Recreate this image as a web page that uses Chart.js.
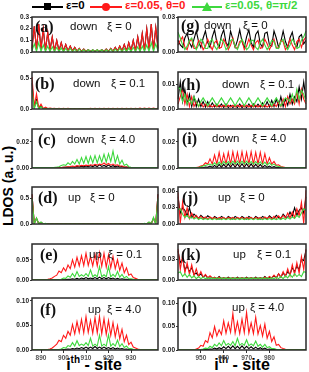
<!DOCTYPE html>
<html>
<head>
<meta charset="utf-8">
<script src="https://cdn.jsdelivr.net/npm/chart.js@4.4.1/dist/chart.umd.min.js"></script>
<style>
  body { margin: 0; width: 309px; height: 372px; background: #fff; position: relative; overflow: hidden;
         font-family: "Liberation Sans", Arial, sans-serif; }
  .box { position: absolute; }
  .lab { position: absolute; white-space: nowrap; line-height: 1; transform: translateY(-50%); color: #111; }
  .tag { font-family: "Liberation Serif", "Times New Roman", serif; font-weight: bold; font-size: 16px; }
  .txt { font-size: 11.5px; }
  .leg { position: absolute; white-space: nowrap; font-weight: bold; font-size: 11.5px; line-height: 1; top: 0px; }
  .lline { position: absolute; height: 2px; top: 6px; }
  .ytitle { position: absolute; left: 8px; top: 186px; transform: translate(-50%, -50%) rotate(-90deg);
            font-weight: bold; font-size: 14px; white-space: nowrap; }
  .xtitle { position: absolute; top: 364px; transform: translate(-50%, -50%); font-weight: bold; font-size: 16px; white-space: nowrap; }
  .xtitle sup { font-size: 10px; }
</style>
</head>
<body>

<!-- legend -->
<div class="lline" style="left:32px;width:31px;background:#000"></div>
<div class="box" style="left:44px;top:3px;width:7px;height:7px;background:#000"></div>
<div class="leg" style="left:66px;color:#000">ε=0</div>
<div class="lline" style="left:90px;width:32px;background:#ff1a1a"></div>
<div class="box" style="left:102px;top:3px;width:8px;height:8px;border-radius:50%;background:#ff1a1a"></div>
<div class="leg" style="left:125px;color:#ff1a1a">ε=0.05, θ=0</div>
<div class="lline" style="left:192px;width:30px;background:#3ed83e"></div>
<div class="box" style="left:202px;top:2px;width:0;height:0;border-left:5px solid transparent;border-right:5px solid transparent;border-bottom:9px solid #3ed83e"></div>
<div class="leg" style="left:225px;color:#3ed83e">ε=0.05, θ=π/2</div>

<div class="ytitle">LDOS (a. u.)</div>
<div class="xtitle" style="left:94px">i<sup>th</sup> - site</div>
<div class="xtitle" style="left:242px">i<sup>th</sup> - site</div>

<script>
// site numbers along each column
const sitesLeft = [886,887,888,889,890,891,892,893,894,895,
  896,897,898,899,900,901,902,903,904,905,
  906,907,908,909,910,911,912,913,914,915,
  916,917,918,919,920,921,922,923,924,925,
  926,927,928,929,930,931,932,933,934,935,
  936,937,938,939,940,941,942];
const sitesRight = [940,941,942,943,944,945,946,947,948,949,
  950,951,952,953,954,955,956,957,958,959,
  960,961,962,963,964,965,966,967,968,969,
  970,971,972,973,974,975,976,977,978,979,
  980,981,982,983,984,985,986,987,988,989,
  990,991,992,993,994,995,996];
// labelled sites on the bottom axes
const ticksLeft = [890, 900, 910, 920, 930];
const ticksRight = [950, 960, 970, 980];

// (a) down, xi = 0
const aRed = [0.03,0.22,0.02,0.24,0.02,0.20,0.015,0.17,0.015,0.13,
  0.01,0.10,0.01,0.08,0.01,0.065,0.008,0.05,0.008,0.04,
  0.006,0.03,0.006,0.025,0.005,0.02,0.005,0.018,0.005,0.018,
  0.005,0.02,0.005,0.025,0.006,0.03,0.006,0.04,0.008,0.05,
  0.008,0.065,0.01,0.08,0.01,0.10,0.01,0.13,0.015,0.16,
  0.015,0.20,0.02,0.24,0.02,0.21,0.03];
const aBlack = aRed; // the eps=0 curve lies under the red one
const aGreen = [0.01,0.07,0.005,0.08,0.005,0.06,0.004,0.05,0.004,0.045,
  0.003,0.04,0.003,0.035,0.003,0.03,0.002,0.03,0.002,0.025,
  0.002,0.025,0.002,0.02,0.002,0.02,0.002,0.02,0.002,0.02,
  0.002,0.02,0.002,0.02,0.002,0.025,0.002,0.025,0.002,0.03,
  0.002,0.03,0.003,0.035,0.003,0.04,0.003,0.045,0.004,0.05,
  0.004,0.06,0.005,0.08,0.005,0.07,0.01];

// (b) down, xi = 0.1
const bRed = [0.52,0.03,0.25,0.02,0.08,0.01,0.03,0.008,0.015,0.006,
  0.012,0.005,0.01,0.005,0.01,0.004,0.01,0.004,0.009,0.004,
  0.009,0.004,0.009,0.004,0.009,0.004,0.01,0.004,0.01,0.004,
  0.01,0.004,0.01,0.004,0.01,0.004,0.011,0.004,0.011,0.004,
  0.012,0.004,0.012,0.004,0.013,0.004,0.013,0.005,0.014,0.005,
  0.014,0.005,0.015,0.005,0.015,0.005,0.012];
const bBlack = [0.42,0.02,0.15,0.01,0.045,0.005,0.015,0.004,0.008,0.003,
  0.006,0.003,0.005,0.002,0.005,0.002,0.004,0.002,0.004,0.002,
  0.004,0.002,0.004,0.002,0.004,0.002,0.004,0.002,0.004,0.002,
  0.004,0.002,0.004,0.002,0.004,0.002,0.004,0.002,0.004,0.002,
  0.005,0.002,0.005,0.002,0.005,0.002,0.005,0.002,0.006,0.002,
  0.006,0.002,0.006,0.002,0.007,0.002,0.006];
const bGreen = [0.30,0,0.12,0,0.04,0,0.012,0,0.006,0,
  0.005,0,0.005,0,0.004,0,0.004,0,0.004,0,
  0.004,0,0.004,0,0.004,0,0.004,0,0.004,0,
  0.004,0,0.004,0,0.004,0,0.004,0,0.004,0,
  0.004,0,0.005,0,0.005,0,0.005,0,0.005,0,
  0.006,0,0.006,0,0.006,0,0.005];

// (c) down, xi = 4.0
const cRed = [0.0003,0.0003,0.0003,0.0003,0.0003,0.0003,0.0003,0.0003,0.0003,0.0003,
  0.0003,0.0003,0.0003,0.0003,0.0006,0.0008,0.001,0.0012,0.0015,0.0012,
  0.0018,0.0015,0.002,0.0017,0.0022,0.0018,0.0025,0.002,0.0028,0.0022,
  0.003,0.0025,0.0038,0.0025,0.0035,0.0022,0.003,0.002,0.0025,0.0015,
  0.0015,0.001,0.0008,0.0005,0.0003,0.0003,0.0003,0.0003,0.0003,0.0003,
  0.0003,0.0003,0.0003,0.0003,0.0003,0.0003,0.0003];
const cBlack = [0.0002,0.0002,0.0002,0.0002,0.0002,0.0002,0.0002,0.0002,0.0002,0.0002,
  0.0002,0.0002,0.0003,0.0004,0.0005,0.0006,0.0008,0.0006,0.001,0.0007,
  0.0012,0.0008,0.0014,0.0009,0.0016,0.001,0.0018,0.001,0.002,0.0011,
  0.0024,0.0012,0.002,0.0011,0.0022,0.001,0.0018,0.0009,0.0015,0.0008,
  0.0012,0.0006,0.0008,0.0004,0.0003,0.0002,0.0002,0.0002,0.0002,0.0002,
  0.0002,0.0002,0.0002,0.0002,0.0002,0.0002,0.0002];
const cGreen = [0.0003,0.0003,0.0003,0.0003,0.0003,0.0003,0.0003,0.0003,0.0003,0.0004,
  0.0005,0.0007,0.001,0.002,0.0025,0.002,0.004,0.0025,0.005,0.003,
  0.0065,0.003,0.008,0.0035,0.0088,0.0035,0.009,0.004,0.0095,0.004,
  0.0095,0.0045,0.0105,0.0045,0.011,0.005,0.013,0.004,0.0095,0.003,
  0.006,0.002,0.003,0.001,0.0005,0.0003,0.0003,0.0003,0.0003,0.0003,
  0.0003,0.0003,0.0003,0.0003,0.0003,0.0003,0.0003];

// (d) up, xi = 0
const dRed = [0.58,0.01,0.11,0.005,0.03,0.003,0.01,0.002,0.004,0.002,
  0.003,0.002,0.003,0.002,0.003,0.002,0.003,0.002,0.003,0.002,
  0.003,0.002,0.003,0.002,0.003,0.002,0.003,0.002,0.003,0.002,
  0.003,0.002,0.003,0.002,0.003,0.002,0.003,0.002,0.003,0.002,
  0.003,0.002,0.003,0.002,0.003,0.002,0.003,0.002,0.004,0.002,
  0.01,0.003,0.03,0.005,0.11,0.01,0.58];
const dBlack = dRed;
const dGreen = [0.50,0,0.12,0,0.04,0,0.012,0,0.005,0,
  0.003,0,0.003,0,0.003,0,0.003,0,0.003,0,
  0.003,0,0.003,0,0.003,0,0.003,0,0.003,0,
  0.003,0,0.003,0,0.003,0,0.003,0,0.003,0,
  0.003,0,0.003,0,0.003,0,0.003,0,0.005,0,
  0.012,0,0.04,0,0.13,0,0.50];

// (e) up, xi = 0.1
const eRed = [0.0005,0.0005,0.0005,0.0005,0.0005,0.0008,0.001,0.0015,0.003,0.005,
  0.009,0.012,0.022,0.018,0.03,0.022,0.037,0.028,0.05,0.032,
  0.056,0.035,0.06,0.036,0.066,0.036,0.058,0.035,0.064,0.035,
  0.068,0.034,0.066,0.032,0.062,0.03,0.058,0.028,0.05,0.024,
  0.042,0.018,0.03,0.012,0.015,0.006,0.004,0.002,0.001,0.0008,
  0.0005,0.0005,0.0005,0.0005,0.0005,0.0005,0.0005];
const eBlack = [0.0003,0.0003,0.0003,0.0003,0.0003,0.0003,0.0003,0.0003,0.0003,0.0003,
  0.0003,0.0003,0.0003,0.0003,0.0008,0.001,0.002,0.0015,0.003,0.002,
  0.004,0.002,0.005,0.003,0.006,0.003,0.005,0.003,0.006,0.003,
  0.007,0.003,0.006,0.003,0.006,0.003,0.005,0.002,0.004,0.002,
  0.003,0.0015,0.002,0.001,0.0006,0.0003,0.0003,0.0003,0.0003,0.0003,
  0.0003,0.0003,0.0003,0.0003,0.0003,0.0003,0.0003];
const eGreen = [0.0005,0.0005,0.0005,0.0005,0.0005,0.0005,0.0005,0.0005,0.0005,0.0005,
  0.0005,0.0005,0.001,0.002,0.005,0.004,0.01,0.007,0.016,0.008,
  0.021,0.009,0.013,0.009,0.016,0.009,0.025,0.008,0.013,0.008,
  0.033,0.008,0.013,0.008,0.033,0.008,0.014,0.008,0.021,0.007,
  0.014,0.005,0.009,0.003,0.003,0.0015,0.001,0.0005,0.0005,0.0005,
  0.0005,0.0005,0.0005,0.0005,0.0005,0.0005,0.0005];

// (f) up, xi = 4.0
const fRed = [0.0005,0.0005,0.0005,0.0005,0.0005,0.0005,0.0005,0.001,0.002,0.004,
  0.008,0.012,0.02,0.017,0.03,0.024,0.038,0.03,0.052,0.033,
  0.058,0.036,0.062,0.035,0.068,0.036,0.06,0.034,0.066,0.035,
  0.068,0.033,0.064,0.032,0.06,0.03,0.056,0.027,0.05,0.023,
  0.042,0.017,0.03,0.011,0.016,0.006,0.004,0.002,0.001,0.0005,
  0.0005,0.0005,0.0005,0.0005,0.0005,0.0005,0.0005];
const fBlack = [0.0003,0.0003,0.0003,0.0003,0.0003,0.0003,0.0003,0.0003,0.0003,0.0003,
  0.0003,0.0003,0.0003,0.0005,0.001,0.0012,0.002,0.0015,0.003,0.002,
  0.004,0.0025,0.005,0.003,0.006,0.003,0.006,0.003,0.007,0.003,
  0.006,0.003,0.006,0.003,0.005,0.0025,0.005,0.002,0.004,0.002,
  0.003,0.0015,0.002,0.001,0.0005,0.0003,0.0003,0.0003,0.0003,0.0003,
  0.0003,0.0003,0.0003,0.0003,0.0003,0.0003,0.0003];
const fGreen = [0.0005,0.0005,0.0005,0.0005,0.0005,0.0005,0.0005,0.0005,0.0005,0.0005,
  0.0005,0.0005,0.001,0.002,0.005,0.004,0.009,0.007,0.015,0.008,
  0.019,0.009,0.012,0.009,0.015,0.009,0.024,0.008,0.012,0.008,
  0.03,0.008,0.012,0.008,0.031,0.008,0.013,0.008,0.02,0.007,
  0.013,0.005,0.008,0.003,0.003,0.0015,0.001,0.0005,0.0005,0.0005,
  0.0005,0.0005,0.0005,0.0005,0.0005,0.0005,0.0005];

// (g) down, xi = 0
const gBlack = [0.010,0.006,0.004,0.012,0.016,0.008,0.004,0.011,0.018,0.009,
  0.004,0.012,0.018,0.008,0.004,0.013,0.019,0.008,0.004,0.014,
  0.019,0.008,0.005,0.018,0.011,0.004,0.010,0.019,0.009,0.004,
  0.013,0.019,0.008,0.004,0.015,0.018,0.007,0.004,0.016,0.017,
  0.006,0.005,0.018,0.012,0.004,0.009,0.018,0.009,0.004,0.012,
  0.017,0.007,0.004,0.013,0.015,0.007,0.010];
const gRed = [0.006,0.010,0.013,0.004,0.002,0.009,0.011,0.003,0.003,0.010,
  0.008,0.002,0.005,0.011,0.006,0.002,0.008,0.010,0.003,0.004,
  0.011,0.007,0.002,0.006,0.012,0.004,0.003,0.009,0.010,0.002,
  0.005,0.011,0.006,0.002,0.008,0.010,0.003,0.004,0.011,0.007,
  0.002,0.006,0.011,0.004,0.003,0.010,0.009,0.002,0.005,0.011,
  0.006,0.002,0.009,0.011,0.004,0.010,0.013];
const gGreen = [0.017,0.012,0.006,0.002,0.005,0.010,0.012,0.006,0.002,0.006,
  0.011,0.009,0.003,0.003,0.009,0.011,0.005,0.002,0.007,0.011,
  0.008,0.002,0.004,0.010,0.011,0.005,0.002,0.007,0.011,0.007,
  0.002,0.004,0.010,0.010,0.004,0.002,0.008,0.011,0.006,0.002,
  0.005,0.010,0.009,0.003,0.003,0.009,0.011,0.005,0.002,0.006,
  0.011,0.008,0.003,0.004,0.010,0.013,0.018];

// (h) down, xi = 0.1
const hBlack = [0.004,0.011,0.003,0.008,0.002,0.006,0.001,0.005,0.001,0.004,
  0.001,0.003,0.0008,0.003,0.0008,0.0025,0.0008,0.002,0.0008,0.002,
  0.0006,0.002,0.0006,0.0015,0.0006,0.0015,0.0006,0.002,0.0006,0.0015,
  0.0006,0.002,0.0006,0.002,0.0008,0.002,0.0008,0.0025,0.0008,0.003,
  0.0008,0.0035,0.001,0.004,0.001,0.005,0.001,0.004,0.0015,0.006,
  0.002,0.005,0.003,0.009,0.004,0.011,0.004];
const hRed = [0.002,0.005,0.008,0.002,0.006,0.001,0.005,0.001,0.003,0.001,
  0.0025,0.0008,0.002,0.0008,0.0015,0.0008,0.0015,0.0008,0.0015,0.0008,
  0.0015,0.0008,0.0015,0.0008,0.0015,0.0008,0.0015,0.0008,0.0015,0.0008,
  0.0015,0.0008,0.0015,0.0008,0.0015,0.0008,0.0015,0.0008,0.0015,0.0008,
  0.0015,0.0008,0.002,0.001,0.003,0.001,0.004,0.001,0.005,0.002,
  0.004,0.002,0.007,0.002,0.008,0.004,0.002];
const hGreen = [0.009,0.008,0.003,0.006,0.002,0.004,0.002,0.005,0.003,0.001,
  0.003,0.0045,0.003,0.0012,0.003,0.0045,0.003,0.0012,0.003,0.0045,
  0.003,0.0012,0.003,0.0045,0.003,0.0012,0.003,0.0045,0.003,0.0012,
  0.003,0.0045,0.003,0.0012,0.003,0.0045,0.003,0.0012,0.003,0.0045,
  0.003,0.0012,0.003,0.0045,0.003,0.0012,0.003,0.0045,0.004,0.003,
  0.006,0.003,0.008,0.004,0.0075,0.006,0.003];

// (i) down, xi = 4.0
const iRed = [0.0003,0.0003,0.0003,0.0003,0.0003,0.0003,0.0003,0.0003,0.0003,0.0008,
  0.0015,0.002,0.004,0.003,0.007,0.003,0.010,0.003,0.012,0.003,
  0.011,0.003,0.012,0.003,0.0125,0.003,0.012,0.003,0.0125,0.003,
  0.012,0.003,0.0125,0.003,0.012,0.003,0.012,0.003,0.011,0.003,
  0.008,0.003,0.005,0.002,0.0025,0.0012,0.0008,0.0003,0.0003,0.0003,
  0.0003,0.0003,0.0003,0.0003,0.0003,0.0003,0.0003];
const iBlack = [0.0002,0.0002,0.0002,0.0002,0.0002,0.0002,0.0002,0.0002,0.0002,0.0002,
  0.0002,0.0002,0.0008,0.0005,0.0015,0.0005,0.002,0.0005,0.0028,0.0005,
  0.003,0.0006,0.0032,0.0006,0.0033,0.0006,0.0033,0.0006,0.0033,0.0006,
  0.0033,0.0006,0.0032,0.0006,0.003,0.0006,0.0028,0.0005,0.002,0.0005,
  0.0015,0.0004,0.001,0.0003,0.0005,0.0002,0.0002,0.0002,0.0002,0.0002,
  0.0002,0.0002,0.0002,0.0002,0.0002,0.0002,0.0002];
const iGreen = [0.0003,0.0003,0.0003,0.0003,0.0003,0.0003,0.0003,0.0003,0.0003,0.0003,
  0.001,0.0015,0.002,0.0025,0.003,0.002,0.004,0.0022,0.0045,0.0025,
  0.005,0.0028,0.005,0.003,0.0052,0.003,0.0052,0.003,0.0052,0.003,
  0.0052,0.003,0.005,0.003,0.005,0.0028,0.0048,0.0025,0.0045,0.0022,
  0.004,0.002,0.003,0.0015,0.0012,0.0008,0.0003,0.0003,0.0003,0.0003,
  0.0003,0.0003,0.0003,0.0003,0.0003,0.0003,0.0003];

// (j) up, xi = 0
const jRed = [0.058,0.001,0.04,0.012,0.03,0.01,0.02,0.011,0.016,0.01,
  0.014,0.01,0.013,0.009,0.013,0.01,0.012,0.009,0.012,0.01,
  0.012,0.009,0.012,0.01,0.012,0.009,0.012,0.01,0.012,0.009,
  0.012,0.01,0.012,0.009,0.012,0.01,0.012,0.009,0.013,0.01,
  0.013,0.009,0.014,0.01,0.015,0.01,0.016,0.011,0.02,0.011,
  0.022,0.012,0.028,0.015,0.04,0.001,0.062];
const jBlack = [0.05,0.02,0.03,0.025,0.015,0.03,0.012,0.018,0.014,0.01,
  0.016,0.012,0.01,0.015,0.012,0.009,0.014,0.011,0.009,0.014,
  0.011,0.009,0.014,0.011,0.009,0.014,0.011,0.009,0.014,0.011,
  0.009,0.014,0.011,0.009,0.014,0.011,0.009,0.014,0.011,0.009,
  0.015,0.011,0.01,0.016,0.012,0.01,0.018,0.013,0.012,0.022,
  0.014,0.03,0.016,0.025,0.03,0.02,0.05];
const jGreen = [0.026,0.028,0.018,0.012,0.016,0.01,0.013,0.009,0.012,0.008,
  0.011,0.008,0.01,0.008,0.01,0.008,0.01,0.008,0.01,0.008,
  0.01,0.008,0.01,0.008,0.01,0.008,0.01,0.008,0.01,0.008,
  0.01,0.008,0.01,0.008,0.01,0.008,0.01,0.008,0.01,0.008,
  0.01,0.008,0.01,0.008,0.01,0.008,0.011,0.008,0.012,0.009,
  0.013,0.01,0.016,0.012,0.02,0.028,0.025];

// (k) up, xi = 0.1
const kRed = [0.045,0.015,0.036,0.01,0.025,0.008,0.022,0.006,0.016,0.005,
  0.012,0.004,0.008,0.003,0.006,0.003,0.004,0.002,0.004,0.002,
  0.003,0.002,0.003,0.002,0.003,0.002,0.003,0.002,0.003,0.002,
  0.003,0.002,0.003,0.002,0.003,0.002,0.003,0.002,0.004,0.002,
  0.005,0.003,0.007,0.003,0.009,0.004,0.012,0.005,0.016,0.006,
  0.022,0.008,0.025,0.01,0.034,0.015,0.045];
const kBlack = [0.042,0.025,0.03,0.015,0.02,0.012,0.018,0.008,0.01,0.006,
  0.009,0.004,0.007,0.003,0.005,0.003,0.004,0.002,0.005,0.002,
  0.003,0.002,0.004,0.002,0.003,0.002,0.004,0.002,0.003,0.002,
  0.004,0.002,0.003,0.002,0.004,0.002,0.003,0.002,0.005,0.002,
  0.004,0.003,0.006,0.003,0.009,0.004,0.01,0.006,0.012,0.008,
  0.018,0.012,0.02,0.015,0.03,0.028,0.043];
const kGreen = [0.01,0.012,0.005,0.009,0.004,0.008,0.003,0.006,0.002,0.005,
  0.002,0.004,0.002,0.003,0.002,0.003,0.002,0.003,0.002,0.003,
  0.002,0.003,0.002,0.003,0.002,0.003,0.002,0.003,0.002,0.003,
  0.002,0.003,0.002,0.003,0.002,0.003,0.002,0.003,0.002,0.003,
  0.002,0.003,0.002,0.004,0.002,0.005,0.002,0.006,0.003,0.008,
  0.004,0.009,0.005,0.008,0.005,0.012,0.011];

// (l) up, xi = 4.0
const lRed = [0.0005,0.0005,0.0005,0.0005,0.0005,0.0005,0.0005,0.0005,0.002,0.004,
  0.01,0.008,0.02,0.016,0.037,0.026,0.05,0.03,0.043,0.033,
  0.062,0.036,0.058,0.038,0.078,0.036,0.06,0.035,0.066,0.037,
  0.08,0.036,0.058,0.035,0.07,0.034,0.052,0.03,0.055,0.025,
  0.04,0.018,0.028,0.01,0.012,0.005,0.003,0.0015,0.001,0.0005,
  0.0005,0.0005,0.0005,0.0005,0.0005,0.0005,0.0005];
const lBlack = [0.0003,0.0003,0.0003,0.0003,0.0003,0.0003,0.0003,0.0003,0.0003,0.0003,
  0.0003,0.0003,0.001,0.0008,0.002,0.0015,0.004,0.002,0.005,0.0025,
  0.007,0.003,0.008,0.003,0.009,0.003,0.008,0.003,0.009,0.003,
  0.008,0.003,0.007,0.0025,0.006,0.002,0.005,0.0015,0.004,0.001,
  0.002,0.0008,0.001,0.0003,0.0003,0.0003,0.0003,0.0003,0.0003,0.0003,
  0.0003,0.0003,0.0003,0.0003,0.0003,0.0003,0.0003];
const lGreen = [0.0005,0.0005,0.0005,0.0005,0.0005,0.0005,0.0005,0.0005,0.0005,0.0005,
  0.001,0.002,0.004,0.003,0.008,0.005,0.012,0.008,0.015,0.009,
  0.02,0.01,0.014,0.01,0.018,0.009,0.025,0.01,0.014,0.01,
  0.022,0.009,0.013,0.009,0.019,0.008,0.012,0.006,0.012,0.005,
  0.007,0.003,0.003,0.0015,0.001,0.0005,0.0005,0.0005,0.0005,0.0005,
  0.0005,0.0005,0.0005,0.0005,0.0005,0.0005,0.0005];

const BLACK = '#000000', RED = '#ff1a1a', GREEN = '#3ed83e';

// layout of the 6x2 grid (plot-area rectangles)
const rowTops = [17, 72, 129, 187, 244, 298];
const rowBots = [66, 123, 182, 238, 294, 350];
const cols = [
  { left: 0, width: 160, axisW: 32, padR: 2, sites: sitesLeft, marks: ticksLeft },
  { left: 160, width: 149, axisW: 18, padR: 3, sites: sitesRight, marks: ticksRight }
];

const panels = [
  { c: 0, r: 0, max: 0.3, ticks: [0, 0.1, 0.2, 0.3], dec: 1, s: [aBlack, aRed, aGreen],
    tag: '(a)', tx: 35, word: 'down', wx: 70, xi: 'ξ = 0', xx: 107, y: 27 },
  { c: 0, r: 1, max: 0.6, ticks: [0, 0.5], dec: 1, s: [bBlack, bRed, bGreen],
    tag: '(b)', tx: 35, word: 'down', wx: 73, xi: 'ξ = 0.1', xx: 111, y: 84 },
  { c: 0, r: 2, max: 0.03, ticks: [0, 0.02], dec: 2, s: [cBlack, cRed, cGreen],
    tag: '(c)', tx: 38, word: 'down', wx: 67, xi: 'ξ = 4.0', xx: 101, y: 140 },
  { c: 0, r: 3, max: 0.72, ticks: [0, 0.5], dec: 1, s: [dBlack, dRed, dGreen],
    tag: '(d)', tx: 38, word: 'up', wx: 68, xi: 'ξ = 0', xx: 90, y: 198 },
  { c: 0, r: 4, max: 0.089, ticks: [0, 0.05], dec: 2, s: [eBlack, eRed, eGreen],
    tag: '(e)', tx: 40, word: 'up', wx: 89, xi: 'ξ = 0.1', xx: 108, y: 255 },
  { c: 0, r: 5, max: 0.106, ticks: [0, 0.05, 0.10], dec: 2, s: [fBlack, fRed, fGreen],
    tag: '(f)', tx: 40, word: 'up', wx: 88, xi: 'ξ = 4.0', xx: 107, y: 310 },
  { c: 1, r: 0, max: 0.03, ticks: [0, 0.03], dec: 2, s: [gBlack, gRed, gGreen],
    tag: '(g)', tx: 181, word: 'down', wx: 204, xi: 'ξ = 0', xx: 243, y: 26 },
  { c: 1, r: 1, max: 0.015, ticks: [0, 0.01], dec: 2, s: [hBlack, hRed, hGreen],
    tag: '(h)', tx: 181, word: 'down', wx: 222, xi: 'ξ = 0.1', xx: 260, y: 85 },
  { c: 1, r: 2, max: 0.03, ticks: [0, 0.02], dec: 2, s: [iBlack, iRed, iGreen],
    tag: '(i)', tx: 182, word: 'down', wx: 212, xi: 'ξ = 4.0', xx: 252, y: 139 },
  { c: 1, r: 3, max: 0.068, ticks: [0, 0.03, 0.06], dec: 2, s: [jBlack, jRed, jGreen],
    tag: '(j)', tx: 182, word: 'up', wx: 218, xi: 'ξ = 0', xx: 240, y: 198 },
  { c: 1, r: 4, max: 0.052, ticks: [0, 0.03], dec: 2, s: [kBlack, kRed, kGreen],
    tag: '(k)', tx: 181, word: 'up', wx: 233, xi: 'ξ = 0.1', xx: 257, y: 255 },
  { c: 1, r: 5, max: 0.111, ticks: [0, 0.05, 0.10], dec: 2, s: [lBlack, lRed, lGreen],
    tag: '(l)', tx: 182, word: 'up', wx: 232, xi: 'ξ = 4.0', xx: 250, y: 308 }
];

// box around every panel
const framePlugin = {
  id: 'frame',
  afterDraw(chart) {
    const a = chart.chartArea, ctx = chart.ctx;
    ctx.save();
    ctx.strokeStyle = '#2a2a2a';
    ctx.lineWidth = 1.5;
    ctx.strokeRect(a.left, a.top, a.right - a.left, a.bottom - a.top);
    ctx.restore();
  }
};

function addLabel(cls, text, x, y) {
  const el = document.createElement('div');
  el.className = 'lab ' + cls;
  el.style.left = x + 'px';
  el.style.top = y + 'px';
  el.textContent = text;
  document.body.appendChild(el);
}

panels.forEach(p => {
  const col = cols[p.c];
  const bottomRow = p.r === 5;
  const ph = rowBots[p.r] - rowTops[p.r];
  const xAxisH = 14;

  const box = document.createElement('div');
  box.className = 'box';
  box.style.left = col.left + 'px';
  box.style.top = (rowTops[p.r] - 5) + 'px';
  box.style.width = col.width + 'px';
  box.style.height = (ph + 5 + (bottomRow ? xAxisH : 5)) + 'px';
  const canvas = document.createElement('canvas');
  box.appendChild(canvas);
  document.body.appendChild(box);

  // green first so it is drawn on top, black at the bottom
  const series = [
    { data: p.s[2], color: GREEN },
    { data: p.s[1], color: RED },
    { data: p.s[0], color: BLACK }
  ];

  new Chart(canvas, {
    type: 'line',
    data: {
      labels: col.sites,
      datasets: series.map(s => ({
        data: s.data,
        borderColor: s.color,
        borderWidth: 1.1,
        pointRadius: 0,
        tension: 0,
        fill: false
      }))
    },
    options: {
      responsive: true,
      maintainAspectRatio: false,
      animation: false,
      devicePixelRatio: 1,
      layout: { padding: { left: 0, right: col.padR, top: 5, bottom: bottomRow ? 0 : 5 } },
      plugins: { legend: { display: false }, tooltip: { enabled: false } },
      scales: {
        x: {
          display: bottomRow,
          offset: false,
          border: { display: false },
          grid: {
            drawOnChartArea: false,
            tickLength: 3,
            color: ctx => (ctx.tick && ctx.tick.label !== '') ? '#333' : 'rgba(0,0,0,0)'
          },
          ticks: {
            autoSkip: false,
            maxRotation: 0,
            padding: 1,
            color: '#555',
            font: { family: 'Liberation Sans', size: 6.5, weight: 'bold' },
            callback: function(v) {
              const site = this.getLabelForValue(v);
              return col.marks.includes(site) ? String(site) : '';
            }
          },
          afterFit: scale => { scale.height = xAxisH; }
        },
        y: {
          min: 0,
          max: p.max,
          border: { display: false },
          grid: { drawOnChartArea: false, tickLength: 2, color: '#333' },
          afterBuildTicks: axis => { axis.ticks = p.ticks.map(v => ({ value: v })); },
          ticks: {
            padding: 1,
            color: '#222',
            font: { family: 'Liberation Sans', size: 6.5, weight: 'bold' },
            callback: v => v.toFixed(p.dec)
          },
          afterFit: scale => { scale.width = col.axisW; }
        }
      }
    },
    plugins: [framePlugin]
  });

  addLabel('tag', p.tag, p.tx, p.y);
  addLabel('txt', p.word, p.wx, p.y);
  addLabel('txt', p.xi, p.xx, p.y);
});
</script>
</body>
</html>
